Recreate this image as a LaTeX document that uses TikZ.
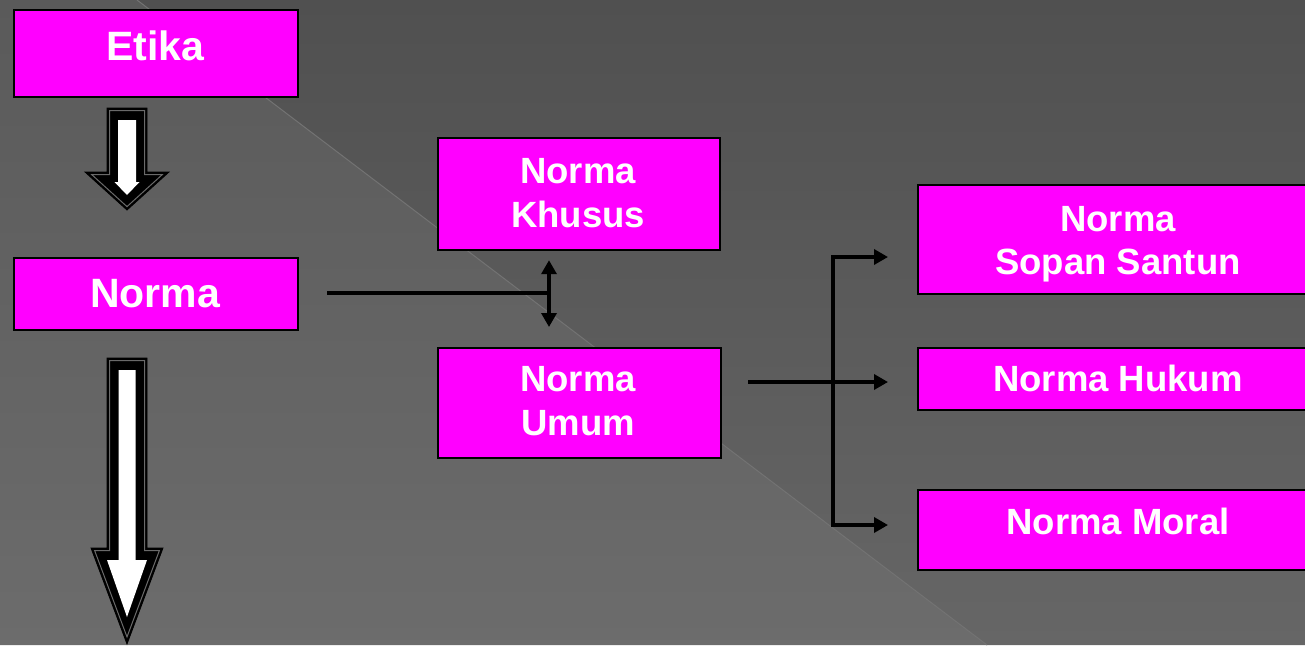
\documentclass[tikz,border=0pt]{standalone}
\usepackage{fontspec}
\setmainfont{Liberation Sans}
\usetikzlibrary{arrows.meta}
\definecolor{mag}{HTML}{FF00FF}
\definecolor{bgtopA}{HTML}{505050}
\definecolor{bgbotA}{HTML}{666666}
\definecolor{bgtopB}{HTML}{5A5A5A}
\definecolor{bgbotB}{HTML}{6C6C6C}
\definecolor{seam}{HTML}{727272}
\definecolor{gapgray}{HTML}{6A6A6A}
\tikzset{
  box/.style={draw=black, line width=2.2pt, fill=mag, inner sep=0pt, anchor=north west},
  big/.style={text=white, font=\bfseries\fontsize{41pt}{49pt}\selectfont, inner sep=0pt, anchor=base},
  lbl/.style={text=white, font=\bfseries\fontsize{36.5pt}{44pt}\selectfont, inner sep=0pt, anchor=base},
  wire/.style={draw=black, line width=3.4pt},
  arr/.style={wire, line join=miter, -{Triangle[length=14pt,width=15pt]}},
  darr/.style={wire, {Triangle[length=14pt,width=15pt]}-{Triangle[length=14pt,width=15pt]}},
  blkout/.style={fill=black, draw=black, line width=0.8pt},
  blkgap/.style={draw=gapgray, line width=1pt},
  blkin/.style={fill=white}
}
\begin{document}
\begin{tikzpicture}[x=1pt,y=-1pt]
\useasboundingbox (0,0) rectangle (1305,645);
\clip (0,0) rectangle (1305,645);
% background
\shade[top color=bgtopA, bottom color=bgbotA] (137,0) -- (1305,0) -- (1305,645) -- (987,645) -- cycle;
\shade[top color=bgtopB, bottom color=bgbotB] (0,0) -- (137,0) -- (987,645) -- (0,645) -- cycle;
\draw[seam, line width=1pt] (137,0) -- (987,645);

% boxes
\node[box, minimum width=284pt, minimum height=87pt] (etika) at (13,9) {};
\node[box, minimum width=284pt, minimum height=72pt] (norma) at (13,257) {};
\node[box, minimum width=282pt, minimum height=112pt] (khusus) at (437,137) {};
\node[box, minimum width=283pt, minimum height=110pt] (umum) at (437,347) {};
\node[box, minimum width=402pt, minimum height=109pt] (sopan) at (917,184) {};
\node[box, minimum width=402pt, minimum height=62pt] (hukum) at (917,347) {};
\node[box, minimum width=402pt, minimum height=80pt] (moral) at (917,489) {};

% texts
\node[big] (etika-t) at (155,60) {Etika};
\node[big] (norma-t) at (155,307) {Norma};
\node[lbl] (khusus-t1) at (578,183) {Norma};
\node[lbl] (khusus-t2) at (578,227) {Khusus};
\node[lbl] (umum-t1) at (578,391) {Norma};
\node[lbl] (umum-t2) at (578,435) {Umum};
\node[lbl] (sopan-t1) at (1118,231) {Norma};
\node[lbl] (sopan-t2) at (1118,274) {Sopan Santun};
\node[lbl] (hukum-t) at (1118,391) {Norma Hukum};
\node[lbl] (moral-t) at (1118,534) {Norma Moral};

% block arrows
\path[blkout] (107,108) -- (147,108) -- (147,172) -- (169,172) -- (127,210) -- (85,172) -- (107,172) -- cycle;
\path[blkgap] (109.5,110.5) -- (144.5,110.5) -- (144.5,174.5) -- (162.4,174.5) -- (127,206.6) -- (91.6,174.5) -- (109.5,174.5) -- cycle;
\path[blkin] (118,120) -- (136,120) -- (136,182) -- (139.5,182) -- (127,195) -- (114.5,182) -- (118,182) -- cycle;

\path[blkout] (107,358) -- (147,358) -- (147,548) -- (163,548) -- (127,644) -- (91,548) -- (107,548) -- cycle;
\path[blkgap] (109.5,360.5) -- (144.5,360.5) -- (144.5,550.5) -- (159.4,550.5) -- (127,636.9) -- (94.6,550.5) -- (109.5,550.5) -- cycle;
\path[blkin] (118.5,370) -- (135.5,370) -- (135.5,560) -- (147,560) -- (127,617) -- (107,560) -- (118.5,560) -- cycle;

% connectors
\coordinate (j1) at (549,293);
\draw[wire] ([xshift=28pt]norma.east |- j1) -- (j1);
\draw[darr] ([yshift=-9pt]khusus.south -| j1) -- ([yshift=20pt]umum.north -| j1);

\coordinate (u0) at (748,382);
\coordinate (b) at (833,382);
\coordinate (bt) at (833,257);
\coordinate (bb) at (833,525);
\draw[arr] (u0) -- ([xshift=-29pt]hukum.west |- u0);
\draw[arr] (b) |- ([xshift=-29pt]sopan.west |- bt);
\draw[arr] (b) |- ([xshift=-29pt]moral.west |- bb);
\end{tikzpicture}
\end{document}
